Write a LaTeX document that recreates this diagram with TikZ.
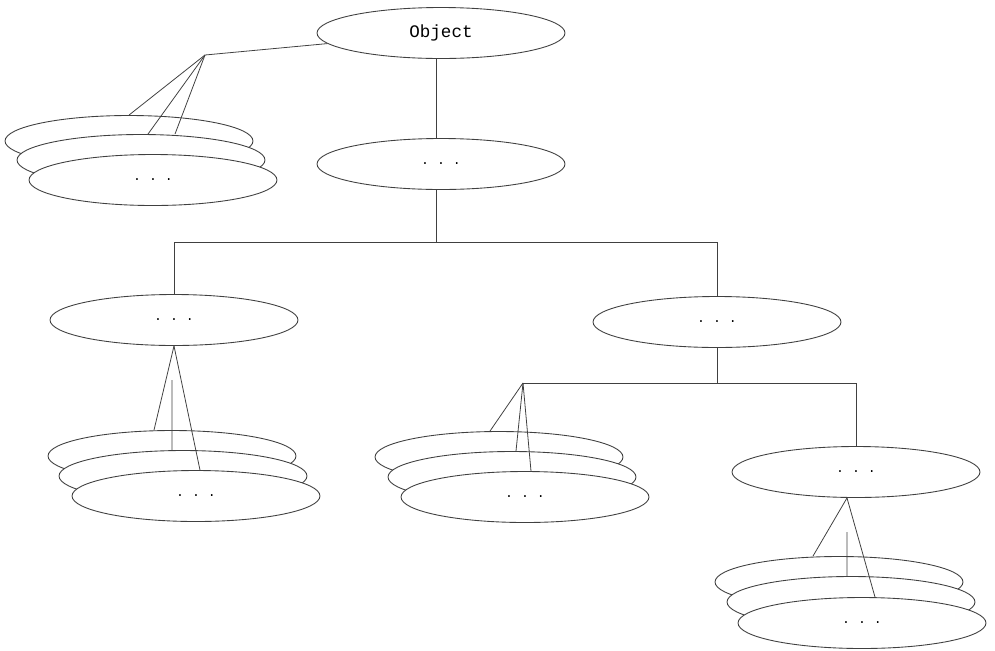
\documentclass[tikz,border=0pt]{standalone}
\usepackage{fontspec}
\setmonofont{Liberation Mono}
\usetikzlibrary{shapes.geometric}
\tikzset{
  cls/.style={draw=black!75, line width=0.5pt, ellipse, fill=white,
    minimum width=4.96cm, minimum height=1.02cm, inner sep=0pt,
    font=\ttfamily\fontsize{10}{12}\selectfont},
  link/.style={draw=black!75, line width=0.45pt},
}
\newcommand{\dotsl}{{\fontsize{7.5}{8}\selectfont . . .}}
\begin{document}
\begin{tikzpicture}[x=0.02cm, y=-0.02cm]
\useasboundingbox (0,0) rectangle (995,650);
% main nodes
\node[cls] (obj) at (441,33) {Object};
\node[cls] (n1) at (441,164) {\dotsl};
\node[cls] (nl) at (174,320) {\dotsl};
\node[cls] (nr) at (717,322) {\dotsl};
\node[cls] (nrr) at (856,472) {\dotsl};
% stacks
\node[cls] (ta1) at (129,141) {};
\node[cls] (ta2) at (141,160) {};
\node[cls] (ta3) at (153,180) {\dotsl};
\node[cls] (lb1) at (172,456) {};
\node[cls] (lb2) at (183,476) {};
\node[cls] (lb3) at (196,496) {\dotsl};
\node[cls] (mb1) at (499,457) {};
\node[cls] (mb2) at (512,477) {};
\node[cls] (mb3) at (525,497) {\dotsl};
\node[cls] (rb1) at (839,582) {};
\node[cls] (rb2) at (851,602) {};
\node[cls] (rb3) at (862,623) {\dotsl};
% junction coordinates
\coordinate (apA) at (205,55);
\coordinate (barL) at (174,242);
\coordinate (barR) at (717,242);
\coordinate (k) at (523,383);
\coordinate (vL) at (172,380);
\coordinate (vR) at (847,532);
% connectors
\draw[link] (obj) -- (apA);
\draw[link] (apA) -- (ta1.north);
\draw[link] (apA) -- ([xshift=0.14cm]ta2.north);
\draw[link] (apA) -- ([xshift=0.68cm]ta2.north);
\draw[link] ([xshift=-0.1cm]obj.south) -- ([xshift=-0.1cm]n1.north);
\draw[link] ([xshift=-0.1cm]n1.south) -- ([xshift=-0.1cm]n1.south |- barL);
\draw[link] (nl.north) -- (barL) -- (barR) -- (nr.north);
\draw[link] (nl.south) -- ([xshift=-0.36cm]lb1.north);
\draw[link] (vL) -- ([xshift=-0.22cm]lb2.north);
\draw[link] (nl.south) -- ([xshift=0.08cm]lb3.north);
\draw[link] (nr.south) -- (nr.south |- k);
\draw[link] (k) -- (nrr.north |- k) -- (nrr.north);
\draw[link] (k) -- ([xshift=-0.18cm]mb1.north);
\draw[link] (k) -- ([xshift=0.08cm]mb2.north);
\draw[link] (k) -- ([xshift=0.12cm]mb3.north);
\draw[link] ([xshift=-0.18cm]nrr.south) -- ([xshift=-0.52cm]rb1.north);
\draw[link] (vR) -- ([xshift=-0.08cm]rb2.north);
\draw[link] ([xshift=-0.18cm]nrr.south) -- ([xshift=0.26cm]rb3.north);
\end{tikzpicture}
\end{document}
